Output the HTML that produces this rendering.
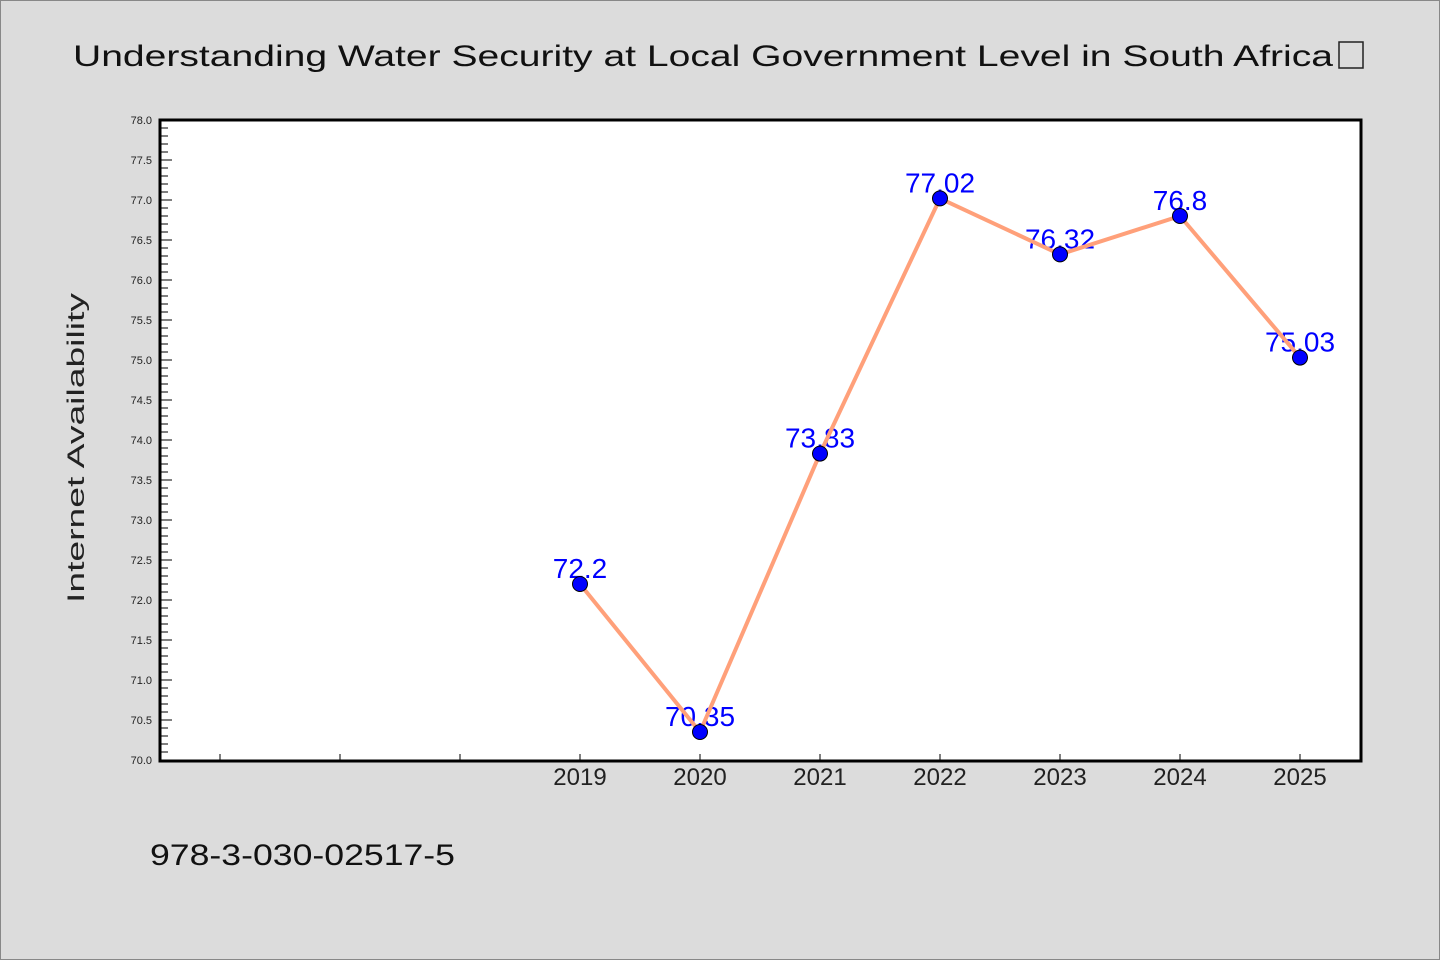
<!DOCTYPE html>
<html><head><meta charset="utf-8"><style>
html,body{margin:0;padding:0;background:#dcdcdc;}
svg{display:block;font-family:"Liberation Sans","Noto Sans CJK SC",sans-serif;}
</style></head><body>
<svg id="chart" width="1440" height="960" viewBox="0 0 1440 960" xmlns="http://www.w3.org/2000/svg">
<rect x="0.5" y="0.5" width="1439" height="959" fill="#dcdcdc" stroke="#888"/>
<text x="73" y="66" font-size="30" fill="#111" textLength="1260" lengthAdjust="spacingAndGlyphs">Understanding Water Security at Local Government Level in South Africa</text>
<rect x="1339" y="42" width="24" height="26" fill="none" stroke="#222" stroke-width="1.5"/>
<rect x="160" y="120" width="1201" height="641" fill="#fff"/>
<g id="yaxis"></g>
<g id="xaxis"></g>
<g id="series"></g>
<rect x="160" y="120" width="1201" height="641" fill="none" stroke="#000" stroke-width="3"/>
<text transform="translate(84,448) rotate(-90)" text-anchor="middle" font-size="24" fill="#222" textLength="310" lengthAdjust="spacingAndGlyphs">Internet Availability</text>
<text x="150" y="865" font-size="30" fill="#111" textLength="305" lengthAdjust="spacingAndGlyphs">978-3-030-02517-5</text>
</svg>
<script>
const categories = ["", "", "", "2019", "2020", "2021", "2022", "2023", "2024", "2025"];
const values = [null, null, null, 72.2, 70.35, 73.83, 77.02, 76.32, 76.8, 75.03];
const valueLabels = ["", "", "", "72.2", "70.35", "73.83", "77.02", "76.32", "76.8", "75.03"];
const yTicks = ["70.0","70.5","71.0","71.5","72.0","72.5","73.0","73.5","74.0","74.5","75.0","75.5","76.0","76.5","77.0","77.5","78.0"];
const yMin = 70, yMax = 78;
const NS = "http://www.w3.org/2000/svg";
function y(v){ return 760 - (v - yMin) / (yMax - yMin) * 640; }
function x(i){ return 220 + i * 120; }
function mk(tag, attrs, parent){ const e = document.createElementNS(NS, tag); for (const k in attrs) e.setAttribute(k, attrs[k]); parent.appendChild(e); return e; }
const ya = document.getElementById('yaxis');
for (let k = 0; k <= 80; k++) {
  const v = yMin + k * 0.1;
  const major = k % 5 === 0;
  const t = mk('line', {x1:160, x2: major ? 172 : 168, y1: y(v), y2: y(v), stroke:'#000', 'stroke-width':1}, ya);
  
  
}
yTicks.forEach(s => {
  const t = mk('text', {x:152, y: y(parseFloat(s)) + 4, 'font-size':11, 'text-anchor':'end', fill:'#222'}, ya);
  t.textContent = s;
  
  
});
const xa = document.getElementById('xaxis');
categories.forEach((c, i) => {
  const t = mk('line', {x1: x(i), x2: x(i), y1: 760, y2: 754, stroke:'#000', 'stroke-width':1}, xa);
  
  
  if (c) {
    const l = mk('text', {x: x(i), y: 785, 'font-size':24, 'text-anchor':'middle', fill:'#222'}, xa);
    l.textContent = c;
    
    
  }
});
const sg = document.getElementById('series');
const pts = [];
values.forEach((v, i) => { if (v !== null) pts.push([x(i), y(v), i]); });
pts.forEach(p => {
  const l = mk('text', {x: p[0], y: p[1] - 6, 'font-size':28, 'text-anchor':'middle', fill:'#0000ff'}, sg);
  l.textContent = valueLabels[p[2]];
  
  
});
const line = mk('polyline', {points: pts.map(p => p[0] + ',' + p[1]).join(' '), fill:'none', stroke:'#ffa07a', 'stroke-width':4, 'stroke-linejoin':'round'}, sg);


pts.forEach(p => {
  const c = mk('circle', {cx: p[0], cy: p[1], r: 7.5, fill:'#0000ff', stroke:'#000', 'stroke-width':1}, sg);
  
  
});
</script>
</body></html>
